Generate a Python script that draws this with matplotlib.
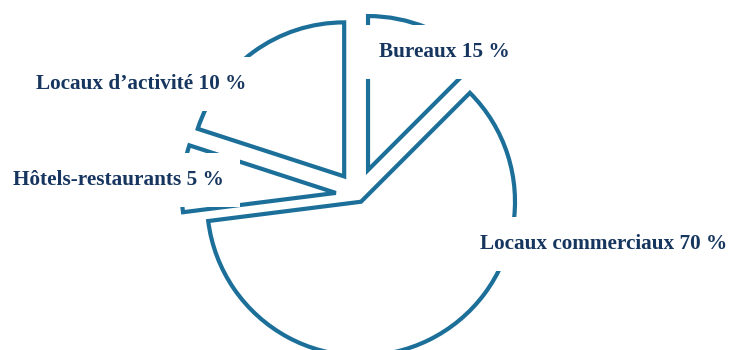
import numpy as np
import matplotlib.pyplot as plt

# Répartition par type de locaux (libellés tels qu'imprimés)
categories = ['Bureaux', 'Locaux commerciaux', 'Hôtels-restaurants', "Locaux d\u2019activité"]
pourcentages = [15, 70, 5, 10]
# parts angulaires telles que dessinées sur le graphique d'origine (en %)
parts = [12.5, 60.5, 7.0, 20.0]
# décalage des parts (en pixels, car les axes sont en pixels)
ecartement = [27.0, 7.5, 22.0, 23.0]

bleu = '#1b6f99'
marine = '#17365f'

fig = plt.figure(figsize=(7.3, 3.5), dpi=100)
ax = fig.add_axes([0, 0, 1, 1])

ax.pie(parts, explode=ecartement, center=(357.7, 155.0), radius=154,
       startangle=90, counterclock=False, frame=True,
       wedgeprops=dict(facecolor='white', edgecolor=bleu, linewidth=3))
ax.set_xlim(0, 730)
ax.set_ylim(0, 350)
ax.set_aspect('equal')
ax.axis('off')

# position des étiquettes (centre du texte)
pos = [(444, 298), (604, 106), (118, 170), (141, 266)]
for cat, p, (x, y) in zip(categories, pourcentages, pos):
    ax.text(x, y, f'{cat} {p} %', ha='center', va='center',
            fontsize=15.3, fontweight='bold', family='Liberation Serif',
            color=marine,
            bbox=dict(boxstyle='square,pad=0.8', fc='white', ec='none'))

fig.savefig('out.png', dpi=100)
